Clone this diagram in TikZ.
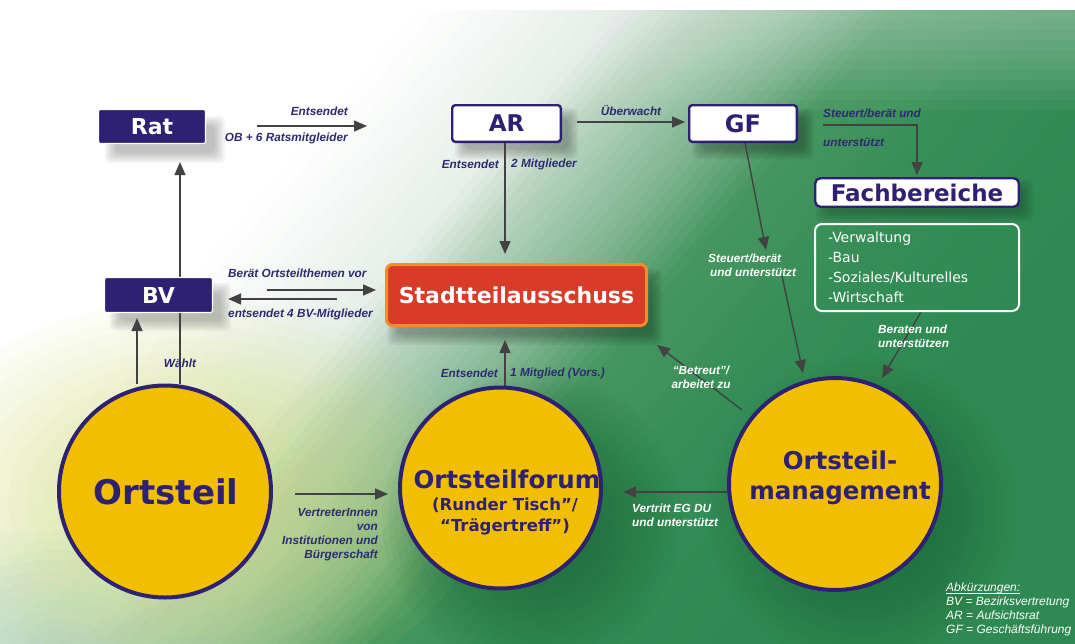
\documentclass[tikz,border=0pt]{standalone}
\usepackage{fontspec}
\setmainfont{DejaVu Sans}
\newfontfamily\labfont{Liberation Sans}
\usetikzlibrary{arrows.meta,calc}
\definecolor{bggreen}{RGB}{46,138,82}
\definecolor{navy}{RGB}{46,32,114}
\definecolor{navytxt}{RGB}{46,42,112}
\definecolor{gold}{RGB}{242,190,0}
\definecolor{stred}{RGB}{216,60,40}
\definecolor{storange}{RGB}{242,140,45}
\definecolor{arrgray}{RGB}{66,66,66}
\definecolor{bgca}{RGB}{230,238,232}
\definecolor{bgcb}{RGB}{185,212,192}
\definecolor{bgcc}{RGB}{125,180,142}
\definecolor{bgcd}{RGB}{70,150,95}
\definecolor{bgce}{RGB}{52,141,86}
\definecolor{yglow}{RGB}{212,224,120}
\definecolor{tglow}{RGB}{140,195,170}
\definecolor{dshadow}{RGB}{18,88,44}
\pgfdeclarelayer{bg}
\pgfdeclarelayer{conn}
\pgfsetlayers{bg,conn,main}
\newcommand\myuline[1]{{\setbox0\hbox{#1}\rlap{\rule[-1.8pt]{\wd0}{0.6pt}}\box0}}
% one diagonal band of the background gradient: #1 t-start, #2 t-end, #3 colour A, #4 colour B, #5 steps
\newcommand\bgseg[5]{%
  \foreach \k in {1,...,#5}{%
    \pgfmathsetmacro\ta{#1+(#2-#1)*(\k-1)/#5}%
    \pgfmathsetmacro\tb{#1+(#2-#1)*\k/#5+1.5}%
    \pgfmathsetmacro\pp{100*(\k-0.5)/#5}%
    \fill[#4!\pp!#3] ({1183+0.766*\ta},{0.643*\ta-436}) -- ({-103+0.766*\ta},{1096+0.643*\ta}) -- ({-103+0.766*\tb},{1096+0.643*\tb}) -- ({1183+0.766*\tb},{0.643*\tb-436}) -- cycle;
  }}
% soft blob from stacked translucent ellipses: colour, cx, cy, rx, ry, steps, opacity
\newcommand\softblob[7]{%
  \foreach \k in {1,...,#6}{%
    \pgfmathsetmacro\rxx{#4*\k/#6}%
    \pgfmathsetmacro\ryy{#5*\k/#6}%
    \fill[#1, opacity=#7] (#2,#3) ellipse ({\rxx pt} and {\ryy pt});
  }}
% soft box shadow: node, dx, dy, opacity
\newcommand\softshadow[4]{%
  \foreach \e in {-4,-2,0,2,4,6}{%
    \fill[black, opacity=#4, rounded corners=6pt] ($(#1.north west)+(#2-\e,#3-\e)$) rectangle ($(#1.south east)+(#2+\e,#3+\e)$);
  }}
\tikzset{
  navybox/.style={rectangle, rounded corners=2pt, fill=navy, draw=white, line width=1.2pt, text=white, font=\bfseries\fontsize{22}{24}\selectfont, inner sep=0pt},
  whitebox/.style={rectangle, rounded corners=3pt, fill=white, draw=navy, line width=2.4pt, text=navy, font=\bfseries\fontsize{23}{25}\selectfont, inner sep=0pt},
  listbox/.style={rectangle, rounded corners=7pt, draw=white, line width=2pt, text=white, font=\fontsize{14}{20}\selectfont, align=left, text width=178pt, inner xsep=13pt, inner ysep=0pt, minimum width=204pt, minimum height=87pt},
  stabox/.style={rectangle, rounded corners=6pt, fill=stred, draw=storange, line width=3pt, text=white, font=\bfseries\fontsize{22}{24}\selectfont, inner sep=0pt, minimum width=260pt, minimum height=61pt},
  circ/.style={circle, fill=gold, draw=navy, line width=4pt, inner sep=0pt},
  circtxt/.style={text=navy, font=\bfseries, inner sep=0pt, align=center},
  arr/.style={draw=arrgray, line width=1.4pt, -{Triangle[length=13pt,width=11pt]}},
  plain/.style={draw=arrgray, line width=1.4pt},
  lbl/.style={font=\labfont\bfseries\itshape\fontsize{11.8}{14}\selectfont, text=navytxt, inner sep=0pt},
  wlbl/.style={lbl, text=white},
  abk/.style={font=\labfont\itshape\fontsize{12}{13.8}\selectfont, text=white, inner sep=0pt, align=left}
}
\begin{document}
\begin{tikzpicture}[x=1pt,y=-1pt]
\useasboundingbox (0,0) rectangle (1075,643);
% ---------- background ----------
\begin{pgfonlayer}{bg}
\fill[white] (0,0) rectangle (1075,643);
\begin{scope}
\clip (0,10) rectangle (1075,643);
\bgseg{-300}{-150}{white}{bgca}{10}
\bgseg{-150}{-100}{bgca}{bgcb}{6}
\bgseg{-100}{0}{bgcb}{bgcc}{12}
\bgseg{0}{70}{bgcc}{bgcd}{8}
\bgseg{70}{200}{bgcd}{bgce}{10}
\bgseg{200}{350}{bgce}{bggreen}{8}
\bgseg{350}{800}{bggreen}{bggreen}{1}
\foreach \k in {0,...,9}{\fill[white, opacity=0.04] (0,10) rectangle (1075,{20+10*\k});}
\softblob{tglow}{60}{650}{200}{120}{12}{0.06}
\softblob{yglow}{190}{500}{290}{200}{16}{0.06}
\softblob{dshadow}{532}{520}{150}{150}{24}{0.035}
\softblob{dshadow}{862}{512}{155}{155}{24}{0.03}
\end{scope}
\end{pgfonlayer}
% ---------- nodes ----------
\node[navybox, minimum width=107pt, minimum height=34pt] (rat) at (152,126.5) {Rat};
\node[navybox, minimum width=108pt, minimum height=35pt] (bv) at (158.5,295) {BV};
\node[whitebox, minimum width=108.6pt, minimum height=36.6pt] (ar) at (506.5,123.5) {AR};
\node[whitebox, minimum width=107.6pt, minimum height=36.6pt, font=\bfseries\fontsize{24}{26}\selectfont] (gf) at (743,123.5) {GF};
\node[whitebox, rounded corners=5pt, minimum width=203.5pt, minimum height=28.5pt, font=\bfseries\fontsize{23}{25}\selectfont] (fach) at (917,192.5) {Fachbereiche};
\node[listbox] (list) at (917,267.5) {-Verwaltung\\-Bau\\-Soziales/Kulturelles\\-Wirtschaft};
\node[stabox] (sta) at (516.5,295) {Stadtteilausschuss};
\node[circ, minimum size=212pt] (ortsteil) at (165,491.5) {};
\node[circtxt, font=\bfseries\fontsize{34}{36}\selectfont] (ortsteiltxt) at (166,492) {Ortsteil};
\node[circ, minimum size=201pt] (forum) at (500.5,488) {};
\node[circtxt, font=\bfseries\fontsize{24.5}{26}\selectfont] (forumtxt) at (507,479) {Ortsteilforum};
\node[circtxt, font=\bfseries\fontsize{16.5}{21}\selectfont] (forumsub) at (505,516.5) {(Runder Tisch”/\\“Trägertreff”)};
\node[circ, minimum size=212pt] (om) at (835,484) {};
\node[circtxt, font=\bfseries\fontsize{24.5}{30}\selectfont] (omtxt) at (840,478) {Ortsteil-\\management};
% ---------- shadows (behind everything but background) ----------
\begin{pgfonlayer}{bg}
\softshadow{rat}{13}{13}{0.045}
\softshadow{bv}{12}{12}{0.045}
\softshadow{ar}{10}{10}{0.05}
\softshadow{gf}{10}{10}{0.05}
\softshadow{fach}{8}{8}{0.04}
\softshadow{sta}{8}{12}{0.05}
\end{pgfonlayer}
% ---------- connectors ----------
\begin{pgfonlayer}{conn}
\coordinate (xva) at (180,0);
\coordinate (xvb) at (137,0);
\coordinate (xvc) at (505,0);
\coordinate (xvd) at (745,0);
\coordinate (xve) at (921,0);
\coordinate (ra) at (257,126);
\coordinate (rb) at (367,126);
\draw[arr] (ra) -- (rb);
\draw[plain] (ortsteil.north -| xva) -- (bv.south -| xva);
\draw[arr, shorten >=18pt] (bv.north -| xva) -- (rat.south -| xva);
\draw[arr, shorten >=5pt] (ortsteil.north -| xvb) -- (bv.south -| xvb);
\coordinate (ba) at (267,290);
\draw[arr, shorten >=9pt] (ba) -- (sta.west |- ba);
\coordinate (bb) at (337,299);
\draw[arr, shorten >=15pt] (bb) -- (bv.east |- bb);
\draw[arr, shorten >=9pt] (ar.south -| xvc) -- (sta.north -| xvc);
\coordinate (aa) at (577,122);
\draw[arr, shorten >=3pt] (aa) -- (gf.west |- aa);
\coordinate (ga) at (823,125);
\draw[arr, shorten >=2pt] (ga) -| (fach.north);
\coordinate (gma) at (766,250);
\draw[arr] (gf.south -| xvd) -- (gma);
\coordinate (gmb) at (782,276);
\coordinate (gmc) at (803,373);
\draw[arr] (gmb) -- (gmc);
\coordinate (lt) at (882,378);
\draw[arr] (list.south -| xve) -- (lt);
\coordinate (oa) at (742,410);
\coordinate (ob) at (657,345);
\draw[arr] (oa) -- (ob);
\draw[arr, shorten >=13pt] (forum.north -| xvc) -- (sta.south -| xvc);
\coordinate (ofa) at (295,494);
\draw[arr, shorten >=10pt] (ofa) -- (forum.west |- ofa);
\coordinate (mfa) at (727,492);
\draw[arr, shorten >=20pt] (mfa) -- (forum.east |- mfa);
\end{pgfonlayer}
% ---------- labels ----------
\node[lbl, anchor=east] (ta) at (348,111) {Entsendet};
\node[lbl, anchor=east] (tb) at (348,138) {OB + 6 Ratsmitgleider};
\node[lbl, anchor=west] (tc) at (228,273) {Berät Ortsteilthemen vor};
\node[lbl, anchor=west] (td) at (228,314) {entsendet 4 BV-Mitglieder};
\node[lbl] (te) at (180,363) {Wählt};
\node[lbl, anchor=east] (tf) at (499,164) {Entsendet};
\node[lbl, anchor=west] (tg) at (511,164) {2 Mitglieder};
\node[lbl] (th) at (631,111) {Überwacht};
\node[lbl, anchor=west] (ti) at (823,113) {Steuert/berät und};
\node[lbl, anchor=west] (tj) at (823,142) {unterstützt};
\node[wlbl, anchor=west, align=left] (tk) at (708,265) {Steuert/berät\\\hspace*{2pt}und unterstützt};
\node[wlbl, anchor=west, align=left] (tl) at (878,336) {Beraten und\\unterstützen};
\node[wlbl, align=center] (tm) at (701,377) {“Betreut”/\\arbeitet zu};
\node[lbl, anchor=east] (tn) at (498,373) {Entsendet};
\node[lbl, anchor=west] (to) at (510,373) {1 Mitglied (Vors.)};
\node[lbl, anchor=east, align=right] (tp) at (378,534.5) {VertreterInnen\\von\\Institutionen und\\Bürgerschaft};
\node[wlbl, anchor=west, align=left] (tq) at (632,515.5) {Vertritt EG DU\\und unterstützt};
\node[abk, anchor=north west] (tr) at (946,583) {\myuline{Abkürzungen:}\\BV = Bezirksvertretung\\AR = Aufsichtsrat\\GF = Geschäftsführung};
\end{tikzpicture}
\end{document}
